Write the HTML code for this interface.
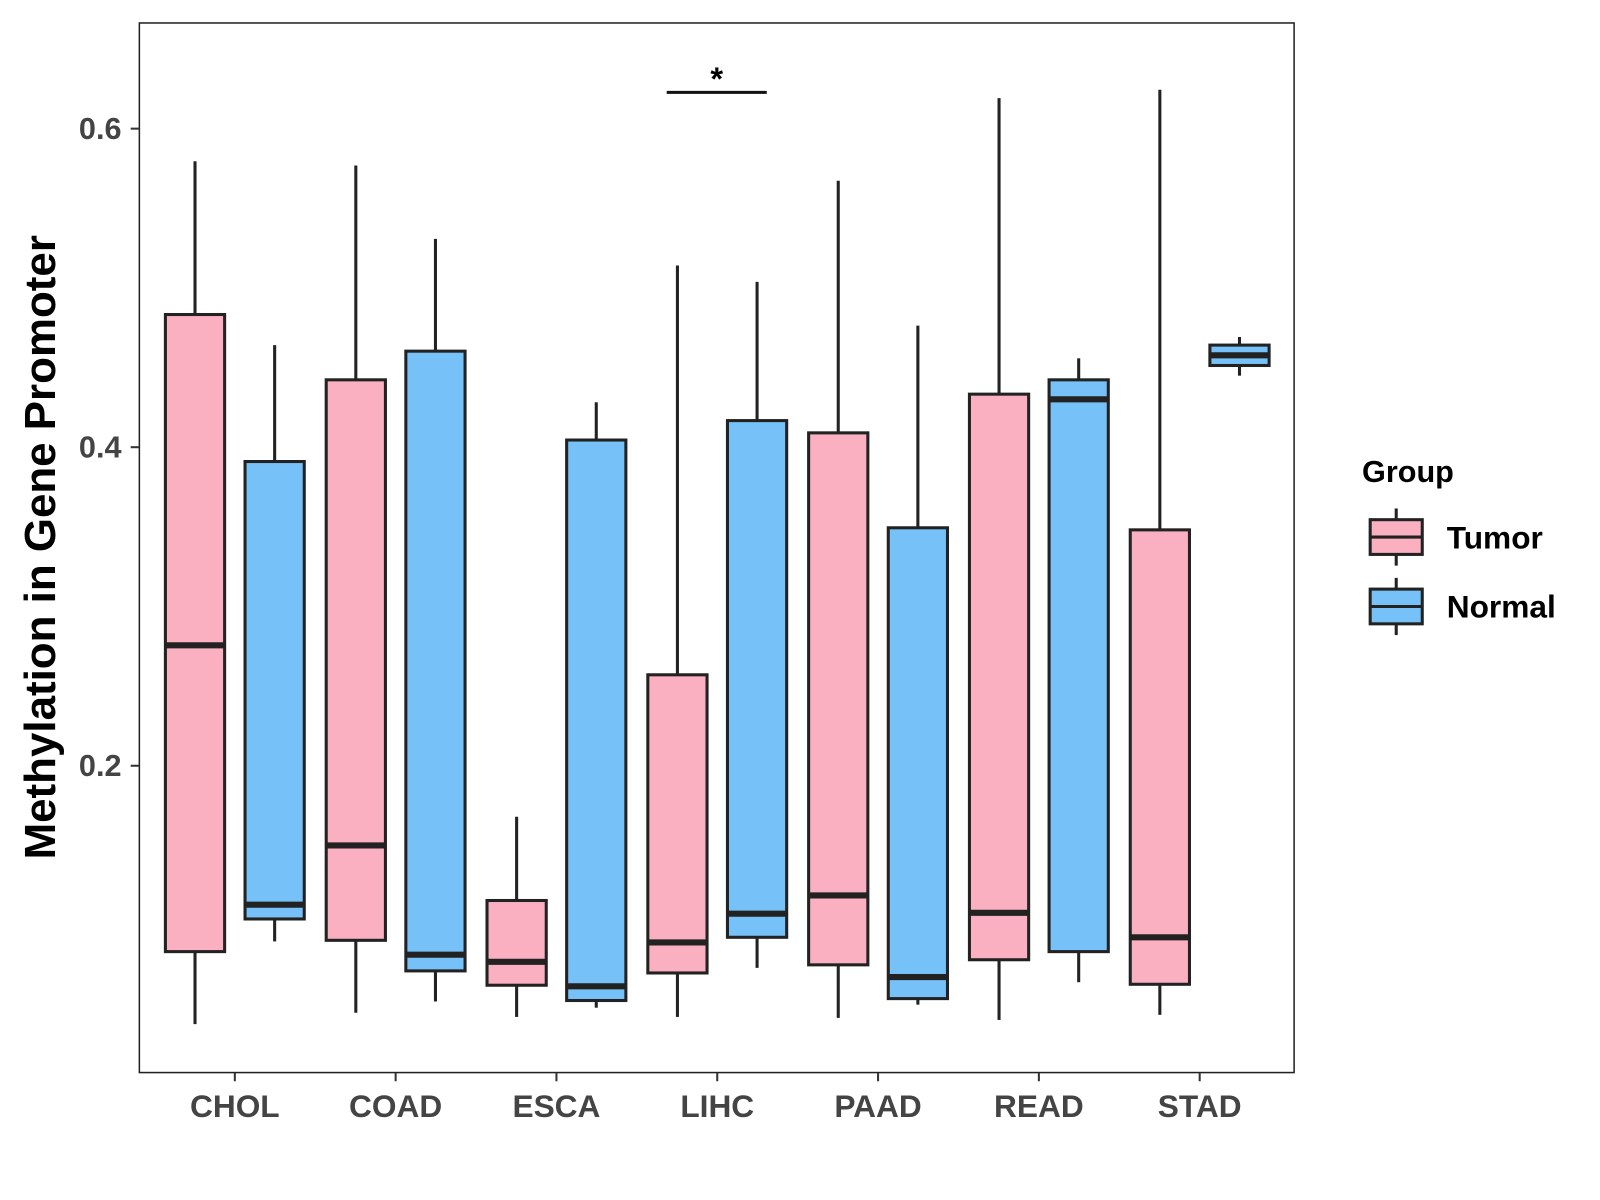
<!DOCTYPE html>
<html><head><meta charset="utf-8"><style>
html,body{margin:0;padding:0;background:#fff;}
svg{display:block;font-family:"Liberation Sans",Arial,sans-serif;font-weight:bold;}
</style></head><body>
<svg id="chart" width="1600" height="1200" xmlns="http://www.w3.org/2000/svg">
<g transform="scale(1.021)">
<rect x="136.5" y="22.5" width="1131" height="1028" fill="#fff" stroke="#222" stroke-width="1.5"/>
<g id="marks"></g>
<g id="axes"></g>
<text transform="translate(54,536) rotate(-90)" text-anchor="middle" font-size="43" fill="#000">Methylation in Gene Promoter</text>
<g>
<line x1="653" y1="90.5" x2="751" y2="90.5" stroke="#111" stroke-width="3"/>
<text x="702" y="88" text-anchor="middle" font-size="32" fill="#000">*</text>
</g>
<g>
<text x="1334" y="472" font-size="30" fill="#000">Group</text>
<g>
<line x1="1367.5" y1="498" x2="1367.5" y2="554" stroke="#222" stroke-width="3"/>
<rect x="1342" y="509" width="51" height="34" fill="#FBB0C1" stroke="#222" stroke-width="3"/>
<line x1="1342" y1="526" x2="1393" y2="526" stroke="#222" stroke-width="3"/>
<text x="1417" y="537" font-size="31" fill="#000">Tumor</text>
</g>
<g>
<line x1="1367.5" y1="566" x2="1367.5" y2="622" stroke="#222" stroke-width="3"/>
<rect x="1342" y="577" width="51" height="34" fill="#76C1F8" stroke="#222" stroke-width="3"/>
<line x1="1342" y1="594" x2="1393" y2="594" stroke="#222" stroke-width="3"/>
<text x="1417" y="605" font-size="31" fill="#000">Normal</text>
</g>
</g>
</g>
</svg>
<script>
const categories = ["CHOL","COAD","ESCA","LIHC","PAAD","READ","STAD"];
const tumorLow  = [0.0378,0.0449,0.0423,0.0423,0.0417,0.0404,0.0436];
const tumorQ1   = [0.0833,0.0904,0.0622,0.0699,0.0750,0.0782,0.0628];
const tumorMed  = [0.2756,0.1500,0.0769,0.0891,0.1186,0.1077,0.0923];
const tumorQ3   = [0.4833,0.4423,0.1154,0.2571,0.4090,0.4333,0.3481];
const tumorHigh = [0.5795,0.5769,0.1680,0.5141,0.5673,0.6192,0.6244];
const normalLow  = [0.0897,0.0520,0.0481,0.0731,0.0500,0.0641,0.4449];
const normalQ1   = [0.1038,0.0712,0.0526,0.0923,0.0538,0.0833,0.4513];
const normalMed  = [0.1128,0.0814,0.0615,0.1071,0.0673,0.4301,0.4577];
const normalQ3   = [0.3910,0.4603,0.4045,0.4167,0.3494,0.4423,0.4641];
const normalHigh = [0.4641,0.5308,0.4282,0.5038,0.4763,0.4558,0.4692];
const yTicks = [0.2,0.4,0.6];
const yTickLabels = ["0.2","0.4","0.6"];

const NS="http://www.w3.org/2000/svg";
const y = v => 750 - (v-0.2)*1560;
const x = i => 230 + i*157.5;
const marks=document.getElementById('marks');
const axes=document.getElementById('axes');
function mk(tag,attrs,parent){const e=document.createElementNS(NS,tag);for(const k in attrs)e.setAttribute(k,attrs[k]);parent.appendChild(e);return e;}

function drawBox(i,off,lo,q1,md,q3,hi,fill,name){
  const g=mk('g',{},marks);
  
  
  const cx=x(i)+off, w=58;
  mk('line',{x1:cx,x2:cx,y1:y(hi),y2:y(q3),stroke:'#222','stroke-width':3},g);
  mk('line',{x1:cx,x2:cx,y1:y(q1),y2:y(lo),stroke:'#222','stroke-width':3},g);
  mk('rect',{x:cx-w/2,y:y(q3),width:w,height:y(q1)-y(q3),fill:fill,stroke:'#222','stroke-width':3},g);
  mk('line',{x1:cx-w/2,x2:cx+w/2,y1:y(md),y2:y(md),stroke:'#222','stroke-width':6},g);
}
categories.forEach((c,i)=>{
  drawBox(i,-39,tumorLow[i],tumorQ1[i],tumorMed[i],tumorQ3[i],tumorHigh[i],'#FBB0C1','box-tumor-'+c.toLowerCase());
  drawBox(i,39,normalLow[i],normalQ1[i],normalMed[i],normalQ3[i],normalHigh[i],'#76C1F8','box-normal-'+c.toLowerCase());
  const t=mk('line',{x1:x(i),x2:x(i),y1:1051,y2:1059,stroke:'#333','stroke-width':2},axes);
  
  
  const l=mk('text',{x:x(i),y:1094,'text-anchor':'middle','font-size':31,fill:'#444'},axes);
  l.textContent=c;
  
  
});
yTicks.forEach((v,i)=>{
  const t=mk('line',{x1:128,x2:136,y1:y(v),y2:y(v),stroke:'#333','stroke-width':2},axes);
  
  
  const l=mk('text',{x:119,y:y(v)+10,'text-anchor':'end','font-size':30,fill:'#444'},axes);
  l.textContent=yTickLabels[i];
  
  
});
</script>
</body></html>
